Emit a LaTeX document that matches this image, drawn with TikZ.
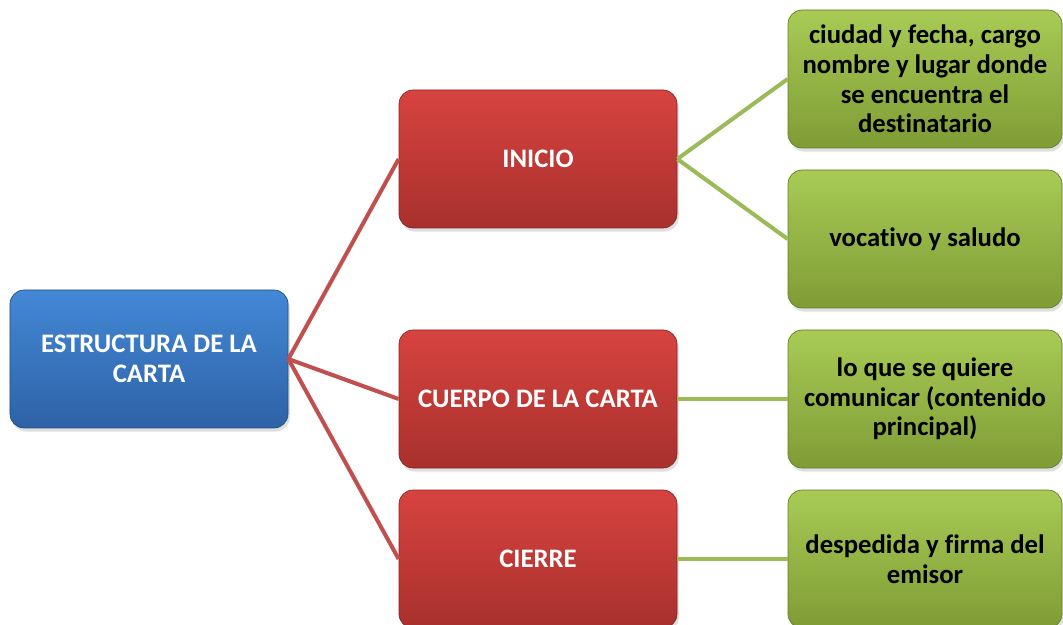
\documentclass[tikz,border=0pt]{standalone}
\usepackage{fontspec}
\setmainfont[Ligatures=NoCommon]{Carlito}
\usetikzlibrary{shadows}

\definecolor{bluetop}{HTML}{4388D6}
\definecolor{bluebot}{HTML}{2E62A6}
\definecolor{redtop}{HTML}{D7433F}
\definecolor{redbot}{HTML}{A8302D}
\definecolor{greentop}{HTML}{A8CB55}
\definecolor{greenbot}{HTML}{7F9C35}
\definecolor{redline}{HTML}{C0504D}
\definecolor{greenline}{HTML}{9BBB59}

\tikzset{
  box/.style={rounded corners=8pt, minimum width=5.56cm, minimum height=2.76cm,
    align=center, font=\fontsize{15.2}{16.9}\selectfont\bfseries,
    drop shadow={opacity=0.25, shadow xshift=1pt, shadow yshift=-2pt}},
  topbox/.style={box, top color=bluetop, bottom color=bluebot, draw=bluebot!80!black, text=white},
  midbox/.style={box, top color=redtop, bottom color=redbot, draw=redbot!80!black, text=white},
  leafbox/.style={box, minimum width=5.48cm, top color=greentop, bottom color=greenbot, draw=greenbot!80!black, text=black},
  redlink/.style={redline, line width=2.3pt},
  greenlink/.style={greenline, line width=2.3pt}
}

\begin{document}
\begin{tikzpicture}
    \useasboundingbox (0,0) rectangle (21.26,-12.5);

    \node[topbox] (carta) at (2.98,-7.18) {ESTRUCTURA DE LA\\CARTA};

    \node[midbox] (inicio) at (10.76,-3.18) {INICIO};
    \node[midbox] (cuerpo) at (10.76,-7.98) {CUERPO DE LA CARTA};
    \node[midbox] (cierre) at (10.76,-11.18) {CIERRE};

    \node[leafbox] (datos) at (18.5,-1.58) {ciudad y fecha, cargo\\nombre y lugar donde\\se encuentra el\\destinatario};
    \node[leafbox] (saludo) at (18.5,-4.78) {vocativo y saludo};
    \node[leafbox] (contenido) at (18.5,-7.98) {lo que se quiere\\comunicar (contenido\\principal)};
    \node[leafbox] (firma) at (18.5,-11.18) {despedida y firma del\\emisor};

    \draw[redlink] (carta.east) -- (inicio.west);
    \draw[redlink] (carta.east) -- (cuerpo.west);
    \draw[redlink] (carta.east) -- (cierre.west);
    \draw[greenlink] (inicio.east) -- (datos.west);
    \draw[greenlink] (inicio.east) -- (saludo.west);
    \draw[greenlink] (cuerpo.east) -- (contenido.west);
    \draw[greenlink] (cierre.east) -- (firma.west);
  \end{tikzpicture}
\end{document}
